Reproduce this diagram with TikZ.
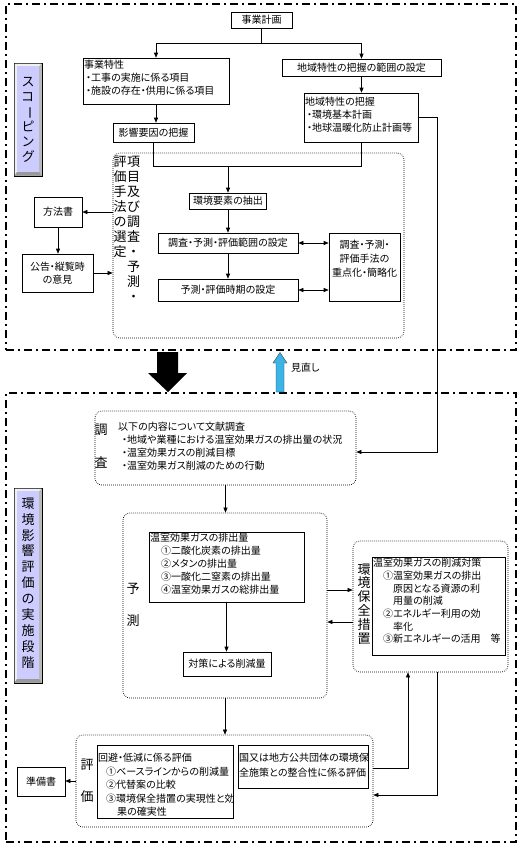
\documentclass[tikz,border=0pt]{standalone}
\usepackage{fontspec}
\usepackage{graphicx}
\setmainfont{Noto Sans CJK JP}[RawFeature={+palt}]
\usetikzlibrary{arrows.meta}
\definecolor{labfill}{RGB}{204,204,255}
\definecolor{bluearr}{RGB}{60,180,230}
\tikzset{
  box/.style={draw, line width=0.6pt, inner sep=0pt, font=\fontsize{10}{13}\selectfont},
  txt/.style={inner sep=0pt, anchor=north west, align=left, font=\fontsize{10}{13}\selectfont},
  arr/.style={-{Triangle[length=5pt,width=4pt]}, line width=0.6pt},
  darr/.style={{Triangle[length=5pt,width=4pt]}-{Triangle[length=5pt,width=4pt]}, line width=0.6pt},
  ln/.style={line width=0.6pt},
  dotbox/.style={draw, dash pattern=on 0.7pt off 1.3pt, line width=0.7pt, rounded corners=7pt, inner sep=0pt},
  phase/.style={draw, line width=1.4pt, dash pattern=on 8pt off 4pt on 2pt off 4pt, inner sep=0pt},
  vtxt/.style={inner sep=0pt, anchor=north, align=center},
}
\begin{document}
\begin{tikzpicture}[x=1pt,y=-1pt]
\useasboundingbox (0,0) rectangle (526,846);
% phase frames
\node[phase, minimum width=510pt, minimum height=346pt] (ph1) at (261,177) {};
\node[phase, minimum width=510pt, minimum height=449pt] (ph2) at (261,617.5) {};

% ---------- scoping ----------
\node[box, minimum width=61pt, minimum height=16pt] (plan) at (261.5,20) {事業計画};
\node[box, minimum width=146pt, minimum height=46pt] (jigyo) at (156,81) {};
\node[txt] (tjigyo) at (84,60) {\vphantom{国}事業特性\\\hspace{2pt}・工事の実施に係る項目\\\hspace{2pt}・施設の存在・供用に係る項目};
\node[box, minimum width=159pt, minimum height=17pt] (range) at (361.5,67.5) {地域特性の把握の範囲の設定};
\node[box, minimum width=114pt, minimum height=49pt] (chiiki) at (361,117.5) {};
\node[txt] (tchiiki) at (305,97) {\vphantom{国}地域特性の把握\\\hspace{2pt}・環境基本計画\\\hspace{2pt}・地球温暖化防止計画等};
\node[box, minimum width=81pt, minimum height=19pt] (eikyo) at (153.5,132.5) {影響要因の把握};
\node[dotbox, minimum width=291pt, minimum height=185pt] (scop) at (258.5,245.5) {};
\node[vtxt, font=\fontsize{13}{15.1}\selectfont] (v1) at (120,155.5) {評\\価\\手\\法\\の\\選\\定};
\node[vtxt, font=\fontsize{13}{15.1}\selectfont] (v2) at (133.5,155.5) {項\\目\\及\\び\\調\\査\\・\\予\\測\\・};
\node[box, minimum width=77pt, minimum height=16pt] (yoso) at (228,201) {環境要素の抽出};
\node[box, minimum width=140pt, minimum height=20pt] (range2) at (228,243) {調査・予測・評価範囲の設定};
\node[box, minimum width=140pt, minimum height=22pt] (time) at (228,290) {予測・評価時期の設定};
\node[box, minimum width=71pt, minimum height=68pt] (method) at (364.5,267) {};
\node[vtxt, font=\fontsize{10}{14}\selectfont] (tmethod) at (364.5,240) {調査・予測・\\評価手法の\\重点化・簡略化};
\node[box, minimum width=48pt, minimum height=30pt] (houhou) at (58,212) {方法書};
\node[box, minimum width=71pt, minimum height=38pt, align=center] (koukoku) at (57.5,273) {公告・縦覧時\\の意見};

% scoping label
\filldraw[draw=black, fill=gray!55, line width=0.5pt] (14,63) rectangle (42,176);
\fill[gray!12] (14.5,63.5) -- (41.5,63.5) -- (39,66) -- (17,66) -- (17,172) -- (14.5,175.5) -- cycle;
\fill[labfill] (17,66) rectangle (39,172);
\fill[gray!80] (14.5,175.5) -- (41.5,175.5) -- (39,172) -- (17,172) -- cycle;
\node[vtxt, font=\fontsize{13}{15}\selectfont] (lab1) at (28,75.5) {\vphantom{国}ス\\コ\\\rotatebox[origin=c]{-90}{ー}\\ピ\\ン\\グ};

% connectors scoping
\coordinate (j1) at (261.5,43);
\draw[ln] (plan.south) -- (j1);
\draw[arr] (j1) -| (jigyo.north);
\draw[arr] (j1) -| (range.north);
\draw[arr] (range.south) -- (range.south |- chiiki.north);
\draw[arr] (jigyo.south) -- (jigyo.south |- eikyo.north);
\coordinate (m1) at (228,166);
\draw[ln] (eikyo.south) |- (m1);
\draw[ln] (chiiki.south) |- (m1);
\draw[arr] (m1) -- (yoso.north);
\draw[arr] (yoso.south) -- (range2.north);
\draw[arr] (range2.south) -- (time.north);
\draw[darr] (range2.east) -- (range2.east -| method.west);
\draw[darr] (time.east) -- (time.east -| method.west);
\draw[arr] (scop.west |- houhou.east) -- (houhou.east);
\draw[arr] (houhou.south) -- (houhou.south |- koukoku.north);
\draw[arr] (koukoku.east) -- (koukoku.east -| scop.west);

% big arrows between phases
\fill[black] (157,352) -- (178,352) -- (178,373) -- (187,373) -- (168,392) -- (148,373) -- (157,373) -- cycle;
\filldraw[fill=bluearr, draw=black!80, line width=0.4pt] (276,392) -- (276,363) -- (273,363) -- (280,352.5) -- (287,363) -- (284,363) -- (284,392) -- cycle;
\node[anchor=west, inner sep=0pt, font=\fontsize{10}{12}\selectfont] (minaoshi) at (291,368) {見直し};

% ---------- implementation ----------
\node[dotbox, minimum width=261pt, minimum height=74pt] (chousa) at (225.5,448) {};
\node[vtxt, font=\fontsize{13}{33}\selectfont] (lchousa) at (101,423.5) {調\\査};
\node[txt] (tchousa) at (118,422) {\vphantom{国}以下の内容について文献調査\\\hspace{4pt}・地域や業種における温室効果ガスの排出量の状況\\\hspace{4pt}・温室効果ガスの削減目標\\\hspace{4pt}・温室効果ガス削減のための行動};
\coordinate (r1) at (437,452);
\draw[arr] (chiiki.east) -| (r1) -- (r1 -| chousa.east);

\node[dotbox, minimum width=204pt, minimum height=185pt] (yosoku) at (225,605.5) {};
\node[vtxt, font=\fontsize{13}{32}\selectfont] (lyosoku) at (133,583.5) {予\\測};
\node[box, minimum width=155pt, minimum height=70pt] (gas) at (226.5,567) {};
\node[txt] (tgas) at (150,533) {\vphantom{国}温室効果ガスの排出量\\\hspace{11pt}①二酸化炭素の排出量\\\hspace{11pt}②メタンの排出量\\\hspace{11pt}③一酸化二窒素の排出量\\\hspace{11pt}④温室効果ガスの総排出量};
\node[box, minimum width=88pt, minimum height=24pt] (taisaku) at (227,664) {対策による削減量};
\draw[arr] (chousa.south) -- (chousa.south |- yosoku.north);
\draw[arr] (gas.south) -- (gas.south |- taisaku.north);

\node[dotbox, minimum width=155pt, minimum height=131pt] (hozen) at (430.5,606.5) {};
\node[vtxt, font=\fontsize{13}{13.8}\selectfont] (lhozen) at (364,563.5) {環\\境\\保\\全\\措\\置};
\node[box, minimum width=133pt, minimum height=98pt] (sakugen) at (438.5,606) {};
\node[txt, font=\fontsize{10}{12.7}\selectfont] (tsakugen) at (373,558) {\vphantom{国}温室効果ガスの削減対策\\\hspace{10pt}①温室効果ガスの排出\\\hspace{20pt}原因となる資源の利\\\hspace{20pt}用量の削減\\\hspace{10pt}②エネルギー利用の効\\\hspace{20pt}率化\\\hspace{10pt}③新エネルギーの活用　等};
\coordinate (p1) at (0,590);
\coordinate (p2) at (0,622);
\draw[arr] (yosoku.east |- p1) -- (hozen.west |- p1);
\draw[arr] (hozen.west |- p2) -- (yosoku.east |- p2);

\node[dotbox, minimum width=297pt, minimum height=92pt] (hyouka) at (224.5,781) {};
\node[vtxt, font=\fontsize{13}{32}\selectfont] (lhyouka) at (87,758.5) {評\\価};
\node[box, minimum width=136pt, minimum height=73pt] (kaihi) at (165,781.5) {};
\node[txt, font=\fontsize{10}{13.5}\selectfont] (tkaihi) at (98,753) {\vphantom{国}回避・低減に係る評価\\\hspace{8pt}①ベースラインからの削減量\\\hspace{8pt}②代替案の比較\\\hspace{8pt}③環境保全措置の実現性と効\\\hspace{19pt}果の確実性};
\node[box, minimum width=130pt, minimum height=43pt] (kuni) at (303,766.5) {};
\node[txt, font=\fontsize{10}{14.5}\selectfont] (tkuni) at (239,753) {\vphantom{国}国又は地方公共団体の環境保\\全施策との整合性に係る評価};
\node[box, minimum width=48pt, minimum height=29pt] (junbi) at (41,781.5) {準備書};
\draw[arr] (yosoku.south) -- (yosoku.south |- hyouka.north);
\draw[arr] (hyouka.west) -- (hyouka.west -| junbi.east);
\coordinate (q1) at (408,768);
\coordinate (q2) at (437,795);
\draw[arr] (hyouka.east |- q1) -- (q1) -- (q1 |- hozen.south);
\draw[arr] (q2 |- hozen.south) -- (q2) -- (q2 -| hyouka.east);

% implementation label
\filldraw[draw=black, fill=gray!55, line width=0.5pt] (14,488) rectangle (42,683);
\fill[gray!12] (14.5,488.5) -- (41.5,488.5) -- (39,491) -- (17,491) -- (17,679) -- (14.5,682.5) -- cycle;
\fill[labfill] (17,491) rectangle (39,679);
\fill[gray!80] (14.5,682.5) -- (41.5,682.5) -- (39,679) -- (17,679) -- cycle;
\node[vtxt, font=\fontsize{13}{15.9}\selectfont] (lab2) at (28,497.5) {環\\境\\影\\響\\評\\価\\の\\実\\施\\段\\階};
\end{tikzpicture}
\end{document}
